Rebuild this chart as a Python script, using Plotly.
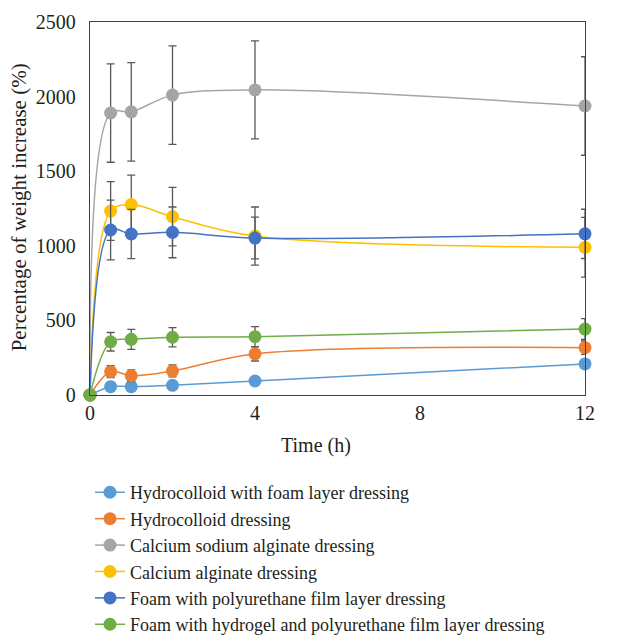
import plotly.graph_objects as go

time_h = [0, 0.5, 1, 2, 4, 12]

series_names = [
    "Hydrocolloid with foam layer dressing",
    "Hydrocolloid dressing",
    "Calcium sodium alginate dressing",
    "Calcium alginate dressing",
    "Foam with polyurethane film layer dressing",
    "Foam with hydrogel and polyurethane film layer dressing",
]

hydrocolloid_foam = [0, 56, 56, 65, 94, 208]
hydrocolloid_foam_err = [0, 12, 12, 12, 12, 15]

hydrocolloid = [0, 156, 129, 161, 275, 317]
hydrocolloid_err = [0, 40, 40, 40, 47, 45]

ca_na_alginate = [0, 1890, 1898, 2010, 2045, 1937]
ca_na_alginate_err = [0, 330, 330, 330, 328, 330]

ca_alginate = [0, 1233, 1276, 1195, 1065, 990]
ca_alginate_err = [0, 197, 198, 196, 195, 200]

foam_pu = [0, 1106, 1079, 1090, 1052, 1080]
foam_pu_err = [0, 200, 165, 170, 140, 165]

foam_hydrogel_pu = [0, 357, 373, 387, 391, 442]
foam_hydrogel_pu_err = [0, 62, 67, 65, 67, 70]

colors = ["#5B9BD5", "#ED7D31", "#A5A5A5", "#FFC000", "#4472C4", "#70AD47"]

values = [hydrocolloid_foam, hydrocolloid, ca_na_alginate, ca_alginate, foam_pu, foam_hydrogel_pu]
errors = [hydrocolloid_foam_err, hydrocolloid_err, ca_na_alginate_err, ca_alginate_err, foam_pu_err, foam_hydrogel_pu_err]

FONT = "Liberation Serif"
TXT = "#231f20"

fig = go.Figure()
for name, y, e, c in zip(series_names, values, errors, colors):
    fig.add_trace(go.Scatter(
        x=time_h, y=y, name=name, mode="lines+markers",
        line=dict(color=c, width=1.5, shape="spline", smoothing=1.0),
        marker=dict(color=c, size=13),
        error_y=dict(type="data", array=e, visible=True, color="#595959", thickness=1.3, width=4),
        cliponaxis=False,
    ))

fig.update_layout(
    width=618, height=629,
    margin=dict(l=82, r=41, t=14, b=242, autoexpand=False),
    paper_bgcolor="white", plot_bgcolor="white",
    font=dict(family=FONT, size=20, color=TXT),
    showlegend=True,
    legend=dict(
        x=0.0, y=-0.212, xanchor="left", yanchor="top",
        font=dict(family=FONT, size=18, color=TXT),
        bgcolor="rgba(0,0,0,0)", tracegroupgap=0,
    ),
    annotations=[
        dict(text="Time (h)", x=0.457, y=-0.135, xref="paper", yref="paper",
             xanchor="center", yanchor="middle", showarrow=False,
             font=dict(family=FONT, size=20, color=TXT)),
        dict(text="Percentage of weight increase (%)", x=-0.1435, y=0.503, xref="paper", yref="paper",
             xanchor="center", yanchor="middle", showarrow=False, textangle=-90,
             font=dict(family=FONT, size=21, color=TXT)),
    ],
)

fig.update_xaxes(
    range=[0, 12], tickvals=[0, 4, 8, 12], ticks="", showgrid=False, zeroline=False,
    showline=True, linecolor="#404040", linewidth=1.3, mirror=True, automargin=False,
    tickfont=dict(family=FONT, size=20, color=TXT),
)
fig.update_yaxes(
    range=[0, 2500], tickvals=[0, 500, 1000, 1500, 2000, 2500], ticks="", showgrid=False, zeroline=False,
    showline=True, linecolor="#404040", linewidth=1.3, mirror=True, automargin=False,
    tickfont=dict(family=FONT, size=20, color=TXT),
    ticklabelstandoff=9,
)

fig.write_html("out.html")
